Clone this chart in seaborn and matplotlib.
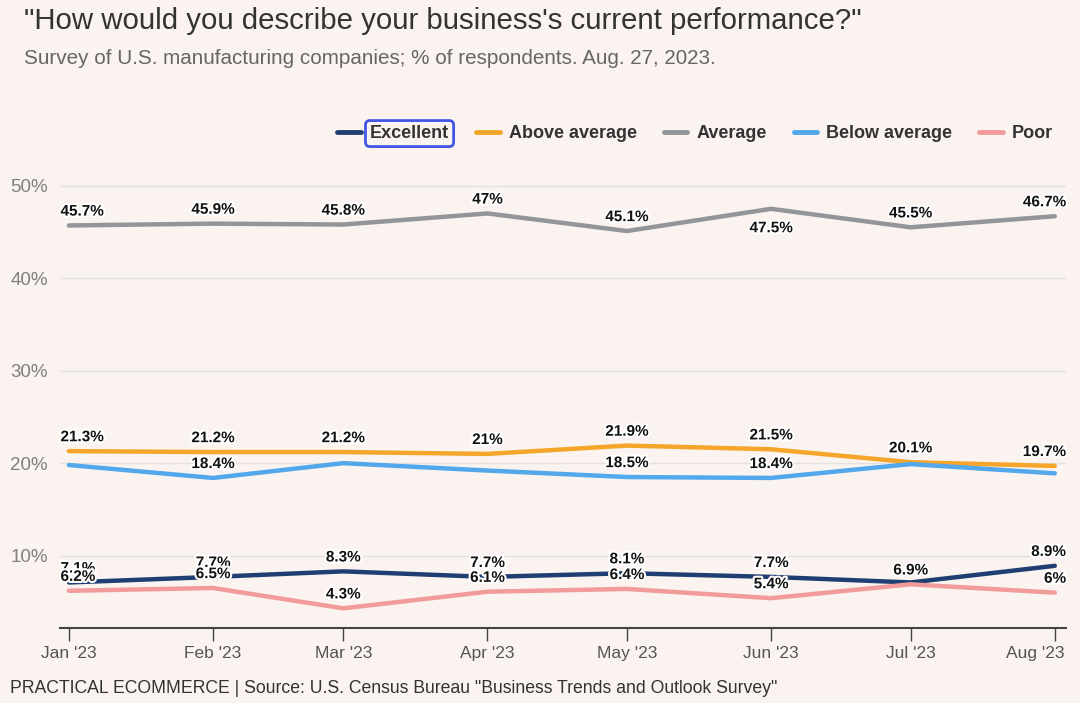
import pandas as pd
import matplotlib.pyplot as plt
import matplotlib.patheffects as pe
import matplotlib.transforms as mtransforms
import seaborn as sns

months = pd.date_range('2023-01-01', periods=8, freq='MS')
month_labels = ["Jan '23", "Feb '23", "Mar '23", "Apr '23", "May '23", "Jun '23", "Jul '23", "Aug '23"]

excellent = [7.1, 7.7, 8.3, 7.7, 8.1, 7.7, 7.1, 8.9]
above_avg = [21.3, 21.2, 21.2, 21.0, 21.9, 21.5, 20.1, 19.7]
average = [45.7, 45.9, 45.8, 47.0, 45.1, 47.5, 45.5, 46.7]
below_avg = [19.8, 18.4, 20.0, 19.2, 18.5, 18.4, 19.9, 18.9]
poor = [6.2, 6.5, 4.3, 6.1, 6.4, 5.4, 6.9, 6.0]

series = ['Excellent', 'Above average', 'Average', 'Below average', 'Poor']
colors = ['#1f3f73', '#f5a62a', '#939598', '#52a8ea', '#f29b9b']

# which points carry a value label (others hidden behind overlaps in the original)
show_labels = {
    'Excellent': [1, 1, 1, 1, 1, 1, 0, 1],
    'Above average': [1] * 8,
    'Average': [1] * 8,
    'Below average': [0, 1, 0, 0, 1, 1, 0, 0],
    'Poor': [1] * 8,
}

values = dict(zip(series, [excellent, above_avg, average, below_avg, poor]))
df = pd.concat([pd.DataFrame({'month': months, 'pct': v, 'series': k}) for k, v in values.items()])

bg = '#faf3f0'
sns.set_theme(style='white')
plt.rcParams['font.family'] = ['Liberation Sans', 'DejaVu Sans']

fig = plt.figure(figsize=(10.8, 7.03), dpi=100, facecolor=bg)
ax = fig.add_axes([0.056, 0.107, 0.931, 0.642], facecolor=bg)

sns.lineplot(data=df, x='month', y='pct', hue='series', hue_order=series,
             palette=colors, linewidth=3.2, ax=ax, legend=True)

# value labels
for name in series:
    for i, (d, v) in enumerate(zip(months, values[name])):
        if not show_labels[name][i]:
            continue
        txt = ('%g' % v) + '%'
        dy = -14 if (name == 'Average' and i == 5) else 10
        ha, dx = 'center', 0
        if i == 0:
            ha, dx = 'left', -6
        if i == 7:
            ha, dx = 'right', 8
        ax.annotate(txt, (d, v), xytext=(dx, dy), textcoords='offset points',
                    ha=ha, va='center', fontsize=11, fontweight='bold', color='#111',
                    path_effects=[pe.withStroke(linewidth=3, foreground='white')])

ax.set_ylim(2.2, 51)
ax.set_xlim(months[0] - pd.Timedelta(days=1.8), months[-1] + pd.Timedelta(days=2.4))
ax.set_yticks([10, 20, 30, 40, 50])
ax.set_yticklabels(['10%', '20%', '30%', '40%', '50%'], fontsize=13.5, color='#808080')
ax.set_xticks(months)
ax.set_xticklabels(month_labels, fontsize=12.5, color='#555555')
ax.grid(axis='y', color='#e4e1df', linewidth=1)
ax.tick_params(axis='y', length=0, pad=9)
ax.tick_params(axis='x', length=9, width=1, color='#444444', direction='out', pad=4, bottom=True)
for s in ['top', 'right', 'left']:
    ax.spines[s].set_visible(False)
ax.spines['bottom'].set_color('#444444')
ax.spines['bottom'].set_linewidth(1.5)
ax.set_xlabel('')
ax.set_ylabel('')

# keep the last month label inside the figure
last = ax.get_xticklabels()[-1]
last.set_horizontalalignment('right')
last.set_transform(last.get_transform() + mtransforms.ScaledTranslation(10 / 100, 0, fig.dpi_scale_trans))

handles, labels = ax.get_legend_handles_labels()
ax.get_legend().remove()
leg = fig.legend(handles, labels, loc='center right', bbox_to_anchor=(0.99, 0.81), ncol=5,
                 frameon=False, handlelength=1.3, handletextpad=0.5, columnspacing=1.5,
                 prop={'weight': 'bold', 'size': 13})
for h in leg.get_lines():
    h.set_linewidth(3.5)
for t in leg.get_texts():
    t.set_color('#333333')
leg.get_texts()[0].set_bbox(dict(boxstyle='round,pad=0.25', fc='none', ec='#3f55e6', lw=2))

fig.text(0.022, 0.99, '"How would you describe your business\'s current performance?"',
         fontsize=21.2, color='#333333', va='top')
fig.text(0.022, 0.93, 'Survey of U.S. manufacturing companies; % of respondents. Aug. 27, 2023.',
         fontsize=14.9, color='#666666', va='top')
fig.text(0.009, 0.009, 'PRACTICAL ECOMMERCE | Source: U.S. Census Bureau "Business Trends and Outlook Survey"',
         fontsize=12.7, color='#333333', va='bottom')

fig.savefig('out.png', dpi=100, facecolor=bg)
